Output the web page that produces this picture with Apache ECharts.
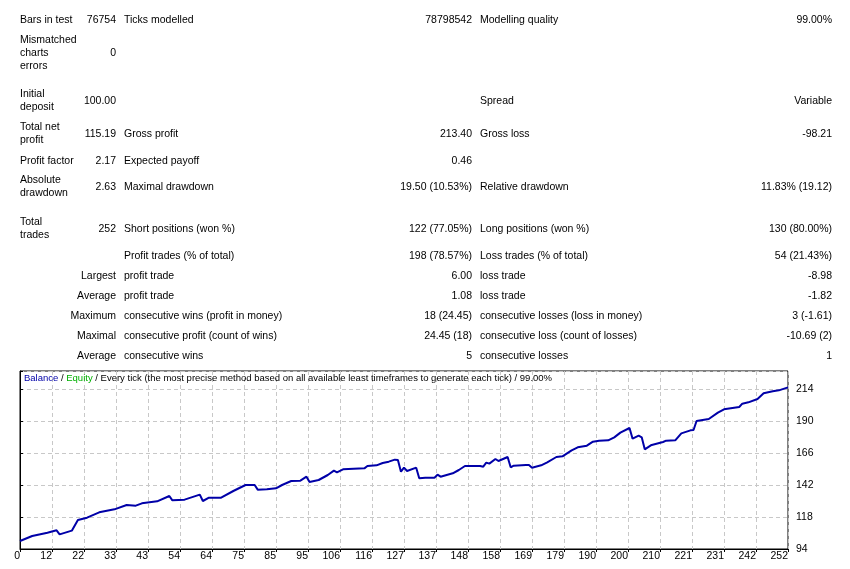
<!DOCTYPE html>
<html>
<head>
<meta charset="utf-8">
<title>Strategy tester report</title>
<script src="https://cdn.jsdelivr.net/npm/echarts@6/dist/echarts.min.js"></script>
<style>
html,body{margin:0;padding:0;background:#fff;}
#container{width:850px;height:569px;}
</style>
</head>
<body>
<div id="container"></div>
<script>
// balance curve (trade number -> balance)
var tradeNo = [0,4,9,12,13,17,19,22,26,31,35,38,40,45,49,50,54,59,60,62,66,70,74,77,78,81,84,86,89,92,94,95,98,101,103,104,106,113,114,117,119,121,123,124,125,126,127,130,131,133,136,137,138,142,144,146,151,152,153,154,156,157,160,161,162,166,167,168,171,173,176,178,181,183,186,188,190,193,195,197,200,201,203,204,205,207,211,212,215,217,220,221,222,226,229,231,236,237,239,242,244,247,249,252];
var balance = [100,103.75,106.2,108,105,107.75,115.75,117.5,121.5,123.75,127,126.5,128.25,129.75,133.75,130.5,131,134.75,130,132.5,132.5,137.5,142,142,138.5,138.75,139.5,142,145,145.25,148.25,144.25,145.75,149.5,152.75,151.5,153.75,154.5,156.25,156.75,158.5,159.5,161,160.75,152,155,152.5,155,147,147.5,147.5,149.75,148.25,150.75,153.25,156.25,156.25,155.75,158.75,158,161.5,160,163,155.25,156.5,157,157,155,156.75,159,163,163.5,168,170.25,171.5,174.5,175.25,175.5,177.75,181.25,184.75,176.75,179,177.75,168.75,171.75,174.25,175.25,175.5,180.75,183,183.25,190,191.5,196.25,198.75,200.5,203,204,206.5,210.75,212.25,213,215.19];
var xTickLabels = ['0','12','22','33','43','54','64','75','85','95','106','116','127','137','148','158','169','179','190','200','210','221','231','242','252'];

// report table: label, value, label, value, label, value
var reportRows = [
  ['Bars in test','76754','Ticks modelled','78798542','Modelling quality','99.00%'],
  ['Mismatched\ncharts\nerrors','0','','','',''],
  ['Initial\ndeposit','100.00','','','Spread','Variable'],
  ['Total net\nprofit','115.19','Gross profit','213.40','Gross loss','-98.21'],
  ['Profit factor','2.17','Expected payoff','0.46','',''],
  ['Absolute\ndrawdown','2.63','Maximal drawdown','19.50 (10.53%)','Relative drawdown','11.83% (19.12)'],
  ['Total\ntrades','252','Short positions (won %)','122 (77.05%)','Long positions (won %)','130 (80.00%)'],
  ['','','Profit trades (% of total)','198 (78.57%)','Loss trades (% of total)','54 (21.43%)'],
  ['','Largest','profit trade','6.00','loss trade','-8.98'],
  ['','Average','profit trade','1.08','loss trade','-1.82'],
  ['','Maximum','consecutive wins (profit in money)','18 (24.45)','consecutive losses (loss in money)','3 (-1.61)'],
  ['','Maximal','consecutive profit (count of wins)','24.45 (18)','consecutive loss (count of losses)','-10.69 (2)'],
  ['','Average','consecutive wins','5','consecutive losses','1']
];
var rowY = [20, 53, 101, 134, 161, 187, 229, 256, 276, 296, 316, 336, 356];
var colX = [20, 116, 124, 472, 480, 832];
var colAlign = ['left','right','left','right','left','right'];

var FAMILY = '"Liberation Sans", Arial, sans-serif';
var FONT = '10.5px ' + FAMILY;

var graphics = [];
reportRows.forEach(function(row, r){
  row.forEach(function(txt, c){
    if (!txt) return;
    graphics.push({
      type: 'text',
      x: colX[c], y: rowY[r],
      style: {
        text: txt, font: FONT, fill: '#000',
        align: colAlign[c], verticalAlign: 'middle', lineHeight: 13
      }
    });
  });
});

var dom = document.getElementById('container');
var myChart = echarts.init(dom);

var option = {
  backgroundColor: '#fff',
  animation: false,
  title: {
    left: 24, top: 373, padding: 0,
    text: '{b|Balance} / {g|Equity} / Every tick (the most precise method based on all available least timeframes to generate each tick) / 99.00%',
    textStyle: {
      fontFamily: FAMILY, fontSize: 9.5, fontWeight: 'normal', color: '#000',
      rich: {
        b: {color: '#0000a8', fontSize: 9.5, fontFamily: FAMILY},
        g: {color: '#00b000', fontSize: 9.5, fontFamily: FAMILY}
      }
    }
  },
  grid: {
    left: 20, right: 62, top: 371, bottom: 20,
    show: true, borderColor: '#000', borderWidth: 1,
    containLabel: false
  },
  xAxis: {
    type: 'value', min: 0, max: 252, interval: 10.5,
    axisLine: {show: true, lineStyle: {color: '#000'}},
    axisTick: {show: true, length: 3, lineStyle: {color: '#000'}},
    axisLabel: {
      color: '#000', fontSize: 10.5, fontFamily: FAMILY,
      margin: 2, align: 'right', showMinLabel: true, showMaxLabel: true,
      formatter: function(v){ return xTickLabels[Math.round(v / 10.5)] || ''; }
    },
    splitLine: {show: true, lineStyle: {color: '#c8c8c8', type: [4, 3]}}
  },
  yAxis: {
    type: 'value', position: 'right', min: 94, max: 227.5, interval: 24,
    axisLine: {show: true, lineStyle: {color: '#000'}},
    axisTick: {show: true, length: 3, lineStyle: {color: '#000'}},
    axisLabel: {
      color: '#000', fontSize: 10.5, fontFamily: FAMILY,
      margin: 8,
      formatter: function(v){ return ((v - 94) % 24 === 0) ? String(v) : ''; }
    },
    splitLine: {show: true, lineStyle: {color: '#c8c8c8', type: [4, 3]}}
  },
  series: [{
    name: 'Balance',
    type: 'line',
    showSymbol: false,
    data: tradeNo.map(function(t, i){ return [t, balance[i]]; }),
    lineStyle: {color: '#0000a8', width: 2},
    itemStyle: {color: '#0000a8'}
  }],
  graphic: graphics
};

myChart.setOption(option);
</script>
</body>
</html>
